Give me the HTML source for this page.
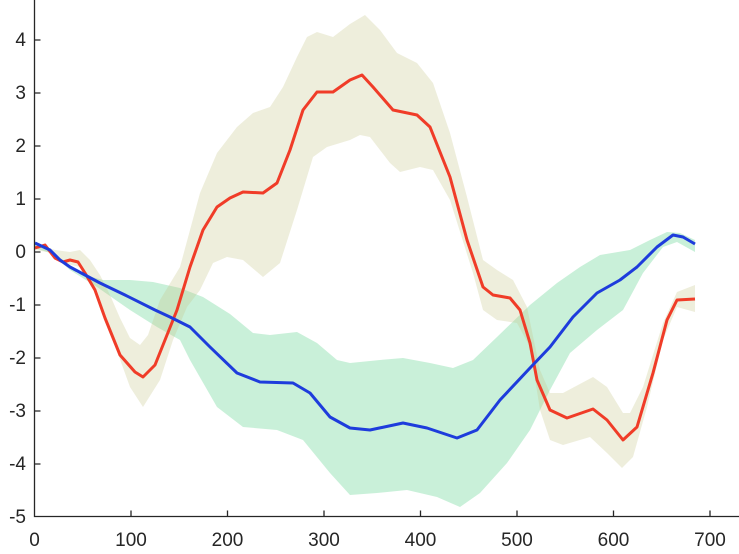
<!DOCTYPE html>
<html><head><meta charset="utf-8"><style>body{margin:0;background:#fff}svg{display:block}text{font-family:"Liberation Sans",sans-serif;font-size:19px;fill:#262626}</style></head>
<body>
<svg width="739" height="554" viewBox="0 0 739 554">
<polygon fill="#3cc878" fill-opacity="0.28" stroke="none" points="35,243 50,250 63,260 77,273 103,280 130,280 153,282 180,288 203,297 230,314 253,333 270,335 297,332 317,343 337,360 350,363 380,360 403,358 430,363 453,368 473,360 497,337 530,305 557,283 580,267 600,255 630,250 650,240 667,232 680,233 695,240 695,252 677,242 663,247 643,273 623,310 597,330 570,353 550,390 530,430 507,463 480,493 460,507 437,497 407,490 377,493 350,495 330,473 303,440 277,430 243,427 217,407 190,360 180,340 157,327 130,310 97,287 70,270 50,253 35,248"/>
<polygon fill="#c8c88c" fill-opacity="0.3" stroke="none" points="35,243 55,250 70,252 80,250 90,260 100,275 110,295 120,318 130,338 140,345 148,335 160,300 180,267 200,193 217,153 237,127 253,113 270,107 283,87 297,57 307,37 317,32 333,37 350,24 365,15 380,30 397,53 417,63 433,83 450,133 467,197 483,260 497,270 513,280 527,307 540,370 550,393 563,393 593,377 607,387 623,413 630,413 643,387 663,323 677,292 695,285 695,312 677,307 663,340 647,407 633,457 622,468 607,453 590,437 563,445 550,440 540,410 530,347 517,323 497,320 483,310 473,273 450,200 433,170 420,167 400,172 390,163 370,137 360,135 350,140 327,147 313,157 297,210 280,263 263,277 243,260 227,257 213,263 200,290 187,307 173,340 160,380 143,407 130,387 113,340 97,290 80,267 63,263 53,253 35,250"/>
<polyline fill="none" stroke="#f03c28" stroke-width="3" stroke-linejoin="round" points="35,248 45,245 55,258 63,262 70,260 78,262 85,273 95,290 105,318 120,355 135,372 143,377 155,365 165,340 177,310 190,267 203,230 217,207 230,198 243,192 263,193 277,183 290,150 303,110 317,92 333,92 350,80 362,75 373,87 393,110 417,115 430,127 450,177 467,240 483,287 493,295 510,298 520,310 530,343 537,380 550,410 567,418 593,409 607,420 623,440 637,427 653,373 667,320 677,300 695,299"/>
<polyline fill="none" stroke="#1e3cdc" stroke-width="3" stroke-linejoin="round" points="35,243 50,250 60,260 70,267 85,275 100,283 125,295 155,310 170,317 190,327 210,347 237,373 260,382 293,383 310,393 330,417 350,428 370,430 403,423 427,428 457,438 477,430 500,400 530,368 550,347 573,317 597,293 620,280 637,267 657,247 673,235 683,237 695,244"/>
<g stroke="#262626" stroke-width="1.3" fill="none">
<path d="M34.5,0 V516.5 H739"/>
<path d="M131,516.5v-6M227.5,516.5v-6M324,516.5v-6M420.5,516.5v-6M517,516.5v-6M613.5,516.5v-6M710,516.5v-6"/>
<path d="M34.5,464h6M34.5,411h6M34.5,358h6M34.5,305h6M34.5,252h6M34.5,199h6M34.5,146h6M34.5,93h6M34.5,40h6"/>
</g>
<g text-anchor="middle">
<text x="34.5" y="546">0</text><text x="131" y="546">100</text><text x="227.5" y="546">200</text><text x="324" y="546">300</text><text x="420.5" y="546">400</text><text x="517" y="546">500</text><text x="613.5" y="546">600</text><text x="710" y="546">700</text>
</g>
<g text-anchor="end">
<text x="26" y="523">-5</text><text x="26" y="470">-4</text><text x="26" y="417">-3</text><text x="26" y="364">-2</text><text x="26" y="311">-1</text><text x="26" y="258">0</text><text x="26" y="205">1</text><text x="26" y="152">2</text><text x="26" y="99">3</text><text x="26" y="46">4</text>
</g>
</svg>
</body></html>
